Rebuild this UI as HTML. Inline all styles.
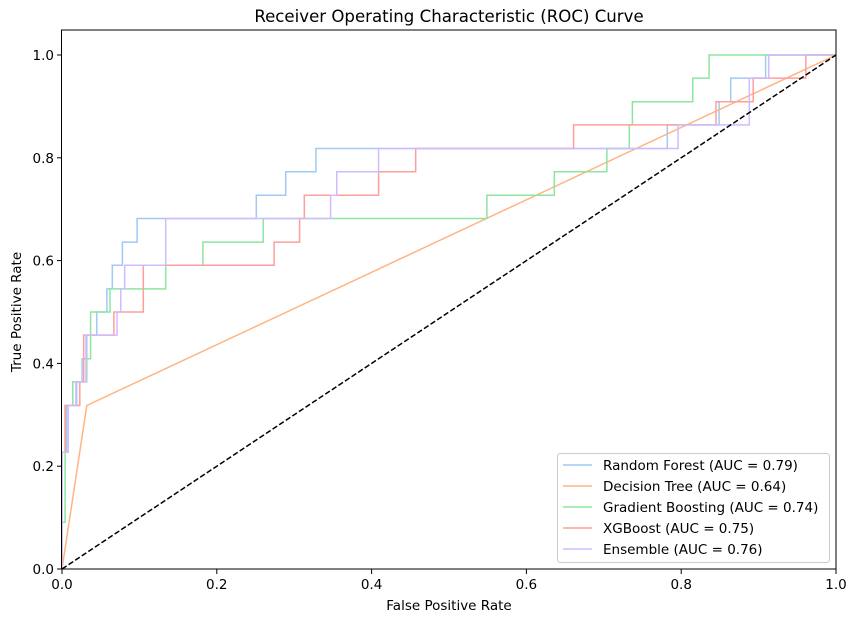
<!DOCTYPE html>
<html><head><meta charset="utf-8"><style>
body{margin:0;background:#fff;font-family:"Liberation Sans","DejaVu Sans",sans-serif}
svg text{font-family:"DejaVu Sans","Liberation Sans",sans-serif}
</style></head><body>
<svg width="857" height="622" xmlns="http://www.w3.org/2000/svg">
<rect width="857" height="622" fill="#fff"/>
<g id="plot"></g>
<g id="axes"></g>
</svg>
<script>
const modelNames=["Random Forest (AUC = 0.79)","Decision Tree (AUC = 0.64)","Gradient Boosting (AUC = 0.74)","XGBoost (AUC = 0.75)","Ensemble (AUC = 0.76)"];
const colors=["#a1c9f4","#ffb482","#8de5a1","#ff9f9b","#d0bbff"];
const rfFpr=[0,0,0.006,0.006,0.019,0.019,0.026,0.026,0.032,0.032,0.045,0.045,0.058,0.058,0.065,0.065,0.078,0.078,0.097,0.097,0.251,0.251,0.289,0.289,0.328,0.328,0.782,0.782,0.849,0.849,0.864,0.864,0.909,0.909,1];
const rfTpr=[0,0.227,0.227,0.318,0.318,0.364,0.364,0.409,0.409,0.455,0.455,0.5,0.5,0.545,0.545,0.591,0.591,0.636,0.636,0.682,0.682,0.727,0.727,0.773,0.773,0.818,0.818,0.864,0.864,0.909,0.909,0.955,0.955,1,1];
const dtFpr=[0,0.032,1];
const dtTpr=[0,0.318,1];
const gbFpr=[0,0,0.004,0.004,0.014,0.014,0.032,0.032,0.037,0.037,0.062,0.062,0.134,0.134,0.182,0.182,0.260,0.260,0.549,0.549,0.636,0.636,0.704,0.704,0.733,0.733,0.737,0.737,0.815,0.815,0.836,0.836,1];
const gbTpr=[0,0.091,0.091,0.318,0.318,0.364,0.364,0.409,0.409,0.5,0.5,0.545,0.545,0.591,0.591,0.636,0.636,0.682,0.682,0.727,0.727,0.773,0.773,0.818,0.818,0.864,0.864,0.909,0.909,0.955,0.955,1,1];
const xgFpr=[0,0,0.004,0.004,0.023,0.023,0.028,0.028,0.067,0.067,0.105,0.105,0.274,0.274,0.307,0.307,0.313,0.313,0.409,0.409,0.457,0.457,0.661,0.661,0.845,0.845,0.893,0.893,0.961,0.961,1];
const xgTpr=[0,0.227,0.227,0.318,0.318,0.364,0.364,0.455,0.455,0.5,0.5,0.591,0.591,0.636,0.636,0.682,0.682,0.727,0.727,0.773,0.773,0.818,0.818,0.864,0.864,0.909,0.909,0.955,0.955,1,1];
const enFpr=[0,0,0.008,0.008,0.018,0.018,0.031,0.031,0.071,0.071,0.076,0.076,0.081,0.081,0.134,0.134,0.347,0.347,0.355,0.355,0.409,0.409,0.796,0.796,0.888,0.888,0.913,0.913,1];
const enTpr=[0,0.227,0.227,0.318,0.318,0.364,0.364,0.455,0.455,0.5,0.5,0.545,0.545,0.591,0.591,0.682,0.682,0.727,0.727,0.773,0.773,0.818,0.818,0.864,0.864,0.955,0.955,1,1];
const xTicks=[0,0.2,0.4,0.6,0.8,1.0];
const yTicks=[0,0.2,0.4,0.6,0.8,1.0];
const tickLabels=["0.0","0.2","0.4","0.6","0.8","1.0"];

const X0=62,X1=836,Y0=569,Y1=55;
const sx=v=>X0+v*(X1-X0), sy=v=>Y0-v*(Y0-Y1);
const NS="http://www.w3.org/2000/svg";
const plot=document.getElementById('plot'), axes=document.getElementById('axes');
function mk(tag,attrs,parent){const e=document.createElementNS(NS,tag);for(const k in attrs)e.setAttribute(k,attrs[k]);parent.appendChild(e);return e;}
const series=[[rfFpr,rfTpr],[dtFpr,dtTpr],[gbFpr,gbTpr],[xgFpr,xgTpr],[enFpr,enTpr]];
const snames=["random-forest-line","decision-tree-line","gradient-boosting-line","xgboost-line","ensemble-line"];
series.forEach((s,i)=>{
  const pts=s[0].map((f,j)=>sx(f).toFixed(1)+","+sy(s[1][j]).toFixed(1)).join(" ");
  const p=mk('polyline',{points:pts,fill:"none",stroke:colors[i],"stroke-width":1.5},plot);
  
  
});
const diag=mk('line',{x1:sx(0),y1:sy(0),x2:sx(1),y2:sy(1),stroke:"#000","stroke-width":1.5,"stroke-dasharray":"5.5,2.4"},plot);


const frame=mk('rect',{x:X0-0.5,y:30,width:X1-X0+0.5,height:Y0-30,fill:"none",stroke:"#000","stroke-width":1},axes);


xTicks.forEach((v,i)=>{
  mk('line',{x1:sx(v),x2:sx(v),y1:Y0,y2:Y0+5,stroke:"#000"},axes);
  const t=mk('text',{x:sx(v),y:Y0+20,"font-size":13.5,"text-anchor":"middle"},axes);t.textContent=tickLabels[i];
  
  
});
yTicks.forEach((v,i)=>{
  mk('line',{x1:X0-5,x2:X0,y1:sy(v),y2:sy(v),stroke:"#000"},axes);
  const t=mk('text',{x:X0-8,y:sy(v)+5,"font-size":13.5,"text-anchor":"end"},axes);t.textContent=tickLabels[i];
  
  
});
const title=mk('text',{x:449,y:22,"font-size":16.6,"text-anchor":"middle"},axes);title.textContent="Receiver Operating Characteristic (ROC) Curve";


const xl=mk('text',{x:449,y:610,"font-size":13.5,"text-anchor":"middle"},axes);xl.textContent="False Positive Rate";


const yl=mk('text',{x:21,y:312,"font-size":13.5,"text-anchor":"middle",transform:"rotate(-90 21 312)"},axes);yl.textContent="True Positive Rate";


const lg=mk('g',{},axes);


mk('rect',{x:557.5,y:453.5,width:272,height:109,rx:3,fill:"#fff","fill-opacity":0.8,stroke:"#ccc"},lg);
modelNames.forEach((n,i)=>{
  const y=465+i*21;
  const g=mk('g',{},lg);
  
  
  mk('line',{x1:563,x2:592,y1:y,y2:y,stroke:colors[i],"stroke-width":1.5},g);
  const t=mk('text',{x:603,y:y+5,"font-size":13.5},g);t.textContent=n;
});
</script>
</body></html>
